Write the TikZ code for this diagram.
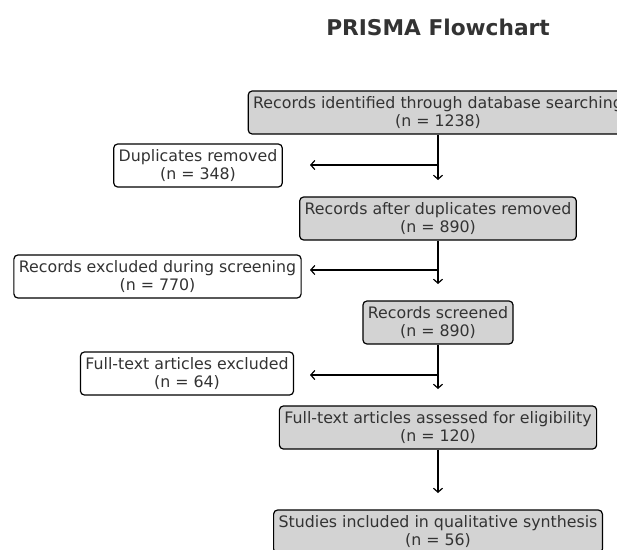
\documentclass[tikz,border=0pt]{standalone}
\usepackage{fontspec}
\setmainfont{DejaVu Sans}
\usepackage{xcolor}
\usetikzlibrary{arrows.meta}
\definecolor{boxgray}{HTML}{D3D3D3}
\definecolor{txtgray}{HTML}{333333}

\begin{document}
\begin{tikzpicture}[x=1pt, y=-1pt,
  every node/.style={draw, rounded corners=4pt, line width=1.2pt, align=center, text=txtgray,
    font=\fontsize{15.8}{18}\selectfont, inner xsep=5pt, inner ysep=0pt, minimum height=43pt},
  main/.style={fill=boxgray},
  side/.style={fill=white},
  flow/.style={line width=1.2pt, -{Straight Barb[length=4pt,width=9pt]}}
]
\useasboundingbox (0,0) rectangle (617,549);
\clip (0,0) rectangle (617,549);
\node[draw=none, font=\bfseries\fontsize{21.7}{26}\selectfont, minimum height=0pt] (title) at (438,27) {PRISMA Flowchart};

\node[main] (ident) at (438,112.5) {Records identified through database searching\\(n = 1238)};
\node[side] (dup) at (198,165.5) {Duplicates removed\\(n = 348)};
\node[main] (after) at (438,218.5) {Records after duplicates removed\\(n = 890)};
\node[side] (exscr) at (157.5,276.5) {Records excluded during screening\\(n = 770)};
\node[main] (screen) at (438,322.5) {Records screened\\(n = 890)};
\node[side] (exft) at (187,373.5) {Full-text articles excluded\\(n = 64)};
\node[main] (elig) at (438,427.5) {Full-text articles assessed for eligibility\\(n = 120)};
\node[main] (incl) at (438,531.5) {Studies included in qualitative synthesis\\(n = 56)};

% arrow ends
\coordinate (v1) at (438,180);
\coordinate (v2) at (438,284);
\coordinate (v3) at (438,389);
\coordinate (v4) at (438,493);
\coordinate (h1s) at (438,165);
\coordinate (h1e) at (310,165);
\coordinate (h2s) at (438,270);
\coordinate (h2e) at (310,270);
\coordinate (h3s) at (438,375);
\coordinate (h3e) at (310,375);

\draw[flow] (ident.south) -- (v1);
\draw[flow] (h1s) -- (h1e);
\draw[flow] (after.south) -- (v2);
\draw[flow] (h2s) -- (h2e);
\draw[flow] (screen.south) -- (v3);
\draw[flow] (h3s) -- (h3e);
\draw[flow] (elig.south) -- (v4);
\end{tikzpicture}
\end{document}
